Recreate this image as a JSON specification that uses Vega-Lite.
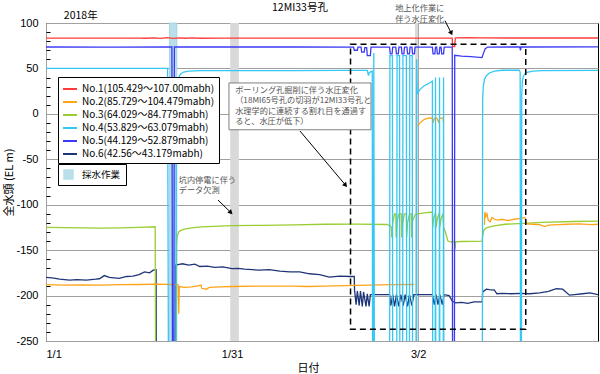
{
  "$schema": "https://vega.github.io/schema/vega-lite/v6.json",
  "width": 552,
  "height": 318,
  "autosize": "none",
  "padding": {"left": 46, "top": 23, "right": 2, "bottom": 33},
  "background": "white",
  "config": {
    "view": {"stroke": "#000", "strokeWidth": 1},
    "font": "Noto Sans CJK JP",
    "axis": {"labelFont": "Liberation Sans", "labelFontSize": 11, "labelColor": "#000", "titleFont": "Noto Sans CJK JP", "titleFontSize": 11, "titleFontWeight": "normal", "titleColor": "#000", "gridColor": "#a0a0a0", "gridWidth": 1, "domain": false}
  },
  "resolve": {"axis": {"y": "independent"}},
  "datasets": {
    "series": [
      {"s":"No.6","g":1,"d":0,"v":-180},{"s":"No.6","g":1,"d":1,"v":-180.5},{"s":"No.6","g":1,"d":2.2,"v":-182},{"s":"No.6","g":1,"d":3.8,"v":-183},{"s":"No.6","g":1,"d":5,"v":-182.5},{"s":"No.6","g":1,"d":6.5,"v":-183},{"s":"No.6","g":1,"d":8,"v":-182},{"s":"No.6","g":1,"d":8.6,"v":-181.5},{"s":"No.6","g":1,"d":9.4,"v":-178},{"s":"No.6","g":1,"d":10.2,"v":-180},{"s":"No.6","g":1,"d":11.8,"v":-181},{"s":"No.6","g":1,"d":13,"v":-179},{"s":"No.6","g":1,"d":14,"v":-178.5},{"s":"No.6","g":1,"d":15,"v":-177},{"s":"No.6","g":1,"d":15.9,"v":-174},{"s":"No.6","g":1,"d":16.7,"v":-175},{"s":"No.6","g":1,"d":17.3,"v":-172},{"s":"No.6","g":1,"d":17.75,"v":-171.5},{"s":"No.6","g":1,"d":17.8,"v":-300},{"s":"No.6","g":1,"d":20.85,"v":-300},{"s":"No.6","g":1,"d":20.9,"v":-166.5},{"s":"No.6","g":1,"d":21.5,"v":-165.7},{"s":"No.6","g":1,"d":22,"v":-165},{"s":"No.6","g":1,"d":23,"v":-166.5},{"s":"No.6","g":1,"d":24,"v":-165.5},{"s":"No.6","g":1,"d":24.8,"v":-168},{"s":"No.6","g":1,"d":26,"v":-167.5},{"s":"No.6","g":1,"d":27.2,"v":-169},{"s":"No.6","g":1,"d":28.5,"v":-168.5},{"s":"No.6","g":1,"d":30,"v":-170.4},{"s":"No.6","g":1,"d":31,"v":-170},{"s":"No.6","g":1,"d":32,"v":-171},{"s":"No.6","g":1,"d":34.4,"v":-172},{"s":"No.6","g":1,"d":36,"v":-171.5},{"s":"No.6","g":1,"d":37.7,"v":-173},{"s":"No.6","g":1,"d":39.3,"v":-174},{"s":"No.6","g":1,"d":40.9,"v":-174},{"s":"No.6","g":1,"d":42.5,"v":-176},{"s":"No.6","g":1,"d":44.1,"v":-177},{"s":"No.6","g":1,"d":45.7,"v":-179.6},{"s":"No.6","g":1,"d":47.3,"v":-178.5},{"s":"No.6","g":1,"d":49,"v":-179},{"s":"No.6","g":1,"d":49.7,"v":-179},{"s":"No.6","g":1,"d":49.75,"v":-194},{"s":"No.6","g":1,"d":50,"v":-210},{"s":"No.6","g":1,"d":50.2,"v":-195},{"s":"No.6","g":1,"d":50.5,"v":-211},{"s":"No.6","g":1,"d":50.7,"v":-195},{"s":"No.6","g":1,"d":51,"v":-212},{"s":"No.6","g":1,"d":51.2,"v":-196},{"s":"No.6","g":1,"d":51.6,"v":-212},{"s":"No.6","g":1,"d":51.8,"v":-198},{"s":"No.6","g":1,"d":52.1,"v":-212},{"s":"No.6","g":1,"d":52.3,"v":-199},{"s":"No.6","g":1,"d":55.4,"v":-199},{"s":"No.6","g":1,"d":55.6,"v":-211},{"s":"No.6","g":1,"d":55.9,"v":-199},{"s":"No.6","g":1,"d":56.2,"v":-212},{"s":"No.6","g":1,"d":56.5,"v":-199},{"s":"No.6","g":1,"d":56.9,"v":-212},{"s":"No.6","g":1,"d":57.2,"v":-199},{"s":"No.6","g":1,"d":57.6,"v":-211},{"s":"No.6","g":1,"d":57.9,"v":-199},{"s":"No.6","g":1,"d":58.3,"v":-212},{"s":"No.6","g":1,"d":58.6,"v":-199},{"s":"No.6","g":1,"d":59,"v":-211},{"s":"No.6","g":1,"d":59.3,"v":-199},{"s":"No.6","g":1,"d":62.3,"v":-199},{"s":"No.6","g":1,"d":62.6,"v":-210},{"s":"No.6","g":1,"d":62.9,"v":-199},{"s":"No.6","g":1,"d":63.2,"v":-210},{"s":"No.6","g":1,"d":63.5,"v":-199},{"s":"No.6","g":1,"d":63.9,"v":-210},{"s":"No.6","g":1,"d":64.2,"v":-199},{"s":"No.6","g":1,"d":65,"v":-200},{"s":"No.6","g":1,"d":65.5,"v":-206},{"s":"No.6","g":1,"d":66,"v":-208},{"s":"No.6","g":1,"d":67,"v":-207.5},{"s":"No.6","g":1,"d":68,"v":-208.5},{"s":"No.6","g":1,"d":69,"v":-207},{"s":"No.6","g":1,"d":70.35,"v":-207},{"s":"No.6","g":1,"d":70.4,"v":-196},{"s":"No.6","g":1,"d":71,"v":-193},{"s":"No.6","g":1,"d":71.5,"v":-193.5},{"s":"No.6","g":1,"d":72.3,"v":-194},{"s":"No.6","g":1,"d":72.7,"v":-198},{"s":"No.6","g":1,"d":73.5,"v":-197.5},{"s":"No.6","g":1,"d":75,"v":-198},{"s":"No.6","g":1,"d":76.5,"v":-197.5},{"s":"No.6","g":1,"d":78,"v":-198},{"s":"No.6","g":1,"d":79.6,"v":-197},{"s":"No.6","g":1,"d":81,"v":-195.5},{"s":"No.6","g":1,"d":82.3,"v":-192.5},{"s":"No.6","g":1,"d":83.3,"v":-193},{"s":"No.6","g":1,"d":84.4,"v":-199.5},{"s":"No.6","g":1,"d":85.2,"v":-199},{"s":"No.6","g":1,"d":86.5,"v":-198},{"s":"No.6","g":1,"d":87.7,"v":-197},{"s":"No.6","g":1,"d":89,"v":-199},

      {"s":"No.3","g":1,"d":0,"v":-125},{"s":"No.3","g":1,"d":3,"v":-125.3},{"s":"No.3","g":1,"d":6,"v":-125.5},{"s":"No.3","g":1,"d":9,"v":-125.8},{"s":"No.3","g":1,"d":12,"v":-125.5},{"s":"No.3","g":1,"d":15,"v":-125},{"s":"No.3","g":1,"d":17.6,"v":-124.3},{"s":"No.3","g":1,"d":17.68,"v":-300},{"s":"No.3","g":1,"d":21,"v":-300},{"s":"No.3","g":1,"d":21.05,"v":-145},{"s":"No.3","g":1,"d":21.15,"v":-135},{"s":"No.3","g":1,"d":21.4,"v":-130},{"s":"No.3","g":1,"d":21.8,"v":-128},{"s":"No.3","g":1,"d":22.5,"v":-126.5},{"s":"No.3","g":1,"d":23.5,"v":-125.5},{"s":"No.3","g":1,"d":25,"v":-124.5},{"s":"No.3","g":1,"d":27,"v":-123.8},{"s":"No.3","g":1,"d":30,"v":-123},{"s":"No.3","g":1,"d":35,"v":-122.7},{"s":"No.3","g":1,"d":40,"v":-122.2},{"s":"No.3","g":1,"d":45,"v":-121.5},{"s":"No.3","g":1,"d":50,"v":-121.3},{"s":"No.3","g":1,"d":55,"v":-121.8},{"s":"No.3","g":1,"d":55.5,"v":-123.5},{"s":"No.3","g":1,"d":55.7,"v":-125},{"s":"No.3","g":1,"d":55.75,"v":-136},{"s":"No.3","g":1,"d":55.9,"v":-120},{"s":"No.3","g":1,"d":56.2,"v":-110},{"s":"No.3","g":1,"d":56.4,"v":-110},{"s":"No.3","g":1,"d":56.45,"v":-136},{"s":"No.3","g":1,"d":56.6,"v":-120},{"s":"No.3","g":1,"d":56.9,"v":-110},{"s":"No.3","g":1,"d":57.3,"v":-110},{"s":"No.3","g":1,"d":57.35,"v":-136},{"s":"No.3","g":1,"d":57.5,"v":-120},{"s":"No.3","g":1,"d":57.8,"v":-110},{"s":"No.3","g":1,"d":58.1,"v":-110},{"s":"No.3","g":1,"d":58.15,"v":-136},{"s":"No.3","g":1,"d":58.3,"v":-120},{"s":"No.3","g":1,"d":58.6,"v":-110},{"s":"No.3","g":1,"d":58.9,"v":-110},{"s":"No.3","g":1,"d":58.95,"v":-136},{"s":"No.3","g":1,"d":59.1,"v":-118},{"s":"No.3","g":1,"d":59.5,"v":-111},{"s":"No.3","g":1,"d":60,"v":-110},{"s":"No.3","g":1,"d":61,"v":-109},{"s":"No.3","g":1,"d":62.3,"v":-108},{"s":"No.3","g":1,"d":62.35,"v":-125},{"s":"No.3","g":1,"d":62.5,"v":-115},{"s":"No.3","g":1,"d":62.8,"v":-109},{"s":"No.3","g":1,"d":62.9,"v":-125},{"s":"No.3","g":1,"d":63.1,"v":-115},{"s":"No.3","g":1,"d":63.4,"v":-109},{"s":"No.3","g":1,"d":63.5,"v":-125},{"s":"No.3","g":1,"d":63.7,"v":-115},{"s":"No.3","g":1,"d":64,"v":-110},{"s":"No.3","g":1,"d":64.1,"v":-125},{"s":"No.3","g":1,"d":64.4,"v":-130},{"s":"No.3","g":1,"d":64.8,"v":-140},{"s":"No.3","g":1,"d":65.2,"v":-141},{"s":"No.3","g":1,"d":65.9,"v":-141},{"s":"No.3","g":1,"d":65.95,"v":-149},{"s":"No.3","g":1,"d":66.05,"v":-141},{"s":"No.3","g":1,"d":67,"v":-140.5},{"s":"No.3","g":1,"d":70.3,"v":-140},{"s":"No.3","g":1,"d":70.4,"v":-135},{"s":"No.3","g":1,"d":70.6,"v":-128},{"s":"No.3","g":1,"d":71,"v":-125.5},{"s":"No.3","g":1,"d":72,"v":-123.5},{"s":"No.3","g":1,"d":74,"v":-121.5},{"s":"No.3","g":1,"d":77,"v":-120.5},{"s":"No.3","g":1,"d":80,"v":-119.5},{"s":"No.3","g":1,"d":85,"v":-118.5},{"s":"No.3","g":1,"d":89,"v":-118},

      {"s":"No.2","g":1,"d":0,"v":-188},{"s":"No.2","g":1,"d":3,"v":-188.5},{"s":"No.2","g":1,"d":6,"v":-188.3},{"s":"No.2","g":1,"d":9,"v":-188.6},{"s":"No.2","g":1,"d":12,"v":-188},{"s":"No.2","g":1,"d":15,"v":-187.8},{"s":"No.2","g":1,"d":18,"v":-187.5},{"s":"No.2","g":1,"d":20,"v":-187.8},{"s":"No.2","g":1,"d":21.3,"v":-188},{"s":"No.2","g":1,"d":21.4,"v":-220},{"s":"No.2","g":1,"d":21.5,"v":-190},{"s":"No.2","g":1,"d":22.3,"v":-191},{"s":"No.2","g":1,"d":23.5,"v":-190.5},{"s":"No.2","g":1,"d":24.7,"v":-189},{"s":"No.2","g":1,"d":25,"v":-188.5},{"s":"No.2","g":1,"d":25.1,"v":-192},{"s":"No.2","g":1,"d":25.9,"v":-193},{"s":"No.2","g":1,"d":26.3,"v":-191},{"s":"No.2","g":1,"d":28,"v":-190.5},{"s":"No.2","g":1,"d":30,"v":-190},{"s":"No.2","g":1,"d":35,"v":-189.5},{"s":"No.2","g":1,"d":40,"v":-189.5},{"s":"No.2","g":1,"d":42,"v":-190},{"s":"No.2","g":1,"d":45,"v":-189.5},{"s":"No.2","g":1,"d":48,"v":-189},{"s":"No.2","g":1,"d":52,"v":-188.5},{"s":"No.2","g":1,"d":56,"v":-188},{"s":"No.2","g":1,"d":59.4,"v":-187.8},
      {"s":"No.2","g":2,"d":59.9,"v":-13},{"s":"No.2","g":2,"d":60.2,"v":-11},{"s":"No.2","g":2,"d":60.6,"v":-8},{"s":"No.2","g":2,"d":61,"v":-6},{"s":"No.2","g":2,"d":61.5,"v":-5},{"s":"No.2","g":2,"d":62,"v":-4.5},{"s":"No.2","g":2,"d":62.3,"v":-5},{"s":"No.2","g":2,"d":62.4,"v":-10},{"s":"No.2","g":2,"d":62.6,"v":-5},{"s":"No.2","g":2,"d":63,"v":-4.5},{"s":"No.2","g":2,"d":63.3,"v":-9},{"s":"No.2","g":2,"d":63.5,"v":-5},{"s":"No.2","g":2,"d":64,"v":-4.5},{"s":"No.2","g":2,"d":64.1,"v":-10},
      {"s":"No.2","g":3,"d":70.7,"v":-122},{"s":"No.2","g":3,"d":70.75,"v":-108},{"s":"No.2","g":3,"d":70.9,"v":-113},{"s":"No.2","g":3,"d":71.1,"v":-110},{"s":"No.2","g":3,"d":71.3,"v":-117},{"s":"No.2","g":3,"d":71.6,"v":-119},{"s":"No.2","g":3,"d":71.9,"v":-114},{"s":"No.2","g":3,"d":72.3,"v":-116},{"s":"No.2","g":3,"d":72.8,"v":-117},{"s":"No.2","g":3,"d":73.5,"v":-116},{"s":"No.2","g":3,"d":74.5,"v":-117.5},{"s":"No.2","g":3,"d":75.5,"v":-116},{"s":"No.2","g":3,"d":76.5,"v":-115},{"s":"No.2","g":3,"d":77.2,"v":-114},{"s":"No.2","g":3,"d":77.5,"v":-121},{"s":"No.2","g":3,"d":78.5,"v":-121.5},{"s":"No.2","g":3,"d":79.6,"v":-122},{"s":"No.2","g":3,"d":80.4,"v":-124},{"s":"No.2","g":3,"d":81,"v":-122.5},{"s":"No.2","g":3,"d":82.8,"v":-122},{"s":"No.2","g":3,"d":84,"v":-121.5},{"s":"No.2","g":3,"d":86,"v":-121},{"s":"No.2","g":3,"d":88,"v":-122},{"s":"No.2","g":3,"d":89,"v":-121.5},

      {"s":"No.4","g":1,"d":0,"v":50},{"s":"No.4","g":1,"d":10,"v":50},{"s":"No.4","g":1,"d":19.6,"v":50},{"s":"No.4","g":1,"d":19.75,"v":-300},{"s":"No.4","g":1,"d":20.95,"v":-300},{"s":"No.4","g":1,"d":21,"v":-60},{"s":"No.4","g":1,"d":21.1,"v":10},{"s":"No.4","g":1,"d":21.2,"v":30},{"s":"No.4","g":1,"d":21.4,"v":40},{"s":"No.4","g":1,"d":21.7,"v":44},{"s":"No.4","g":1,"d":22.2,"v":46},{"s":"No.4","g":1,"d":23,"v":47},{"s":"No.4","g":1,"d":25,"v":47.5},{"s":"No.4","g":1,"d":30,"v":47.5},{"s":"No.4","g":1,"d":40,"v":47.6},{"s":"No.4","g":1,"d":48,"v":47.8},{"s":"No.4","g":1,"d":51.8,"v":47.8},{"s":"No.4","g":1,"d":51.9,"v":45},{"s":"No.4","g":1,"d":52,"v":42},{"s":"No.4","g":1,"d":52.1,"v":45},{"s":"No.4","g":1,"d":52.5,"v":47},{"s":"No.4","g":1,"d":52.6,"v":47},{"s":"No.4","g":1,"d":52.66,"v":-300},{"s":"No.4","g":1,"d":52.8,"v":-300},{"s":"No.4","g":1,"d":52.85,"v":67},{"s":"No.4","g":1,"d":52.95,"v":-300},{"s":"No.4","g":1,"d":55.4,"v":-300},{"s":"No.4","g":1,"d":55.45,"v":64},{"s":"No.4","g":1,"d":55.85,"v":64},{"s":"No.4","g":1,"d":55.9,"v":-300},{"s":"No.4","g":1,"d":56.55,"v":-300},{"s":"No.4","g":1,"d":56.6,"v":64},{"s":"No.4","g":1,"d":57,"v":64},{"s":"No.4","g":1,"d":57.05,"v":-300},{"s":"No.4","g":1,"d":57.5,"v":-300},{"s":"No.4","g":1,"d":57.55,"v":64},{"s":"No.4","g":1,"d":58.1,"v":64},{"s":"No.4","g":1,"d":58.15,"v":-300},{"s":"No.4","g":1,"d":58.6,"v":-300},{"s":"No.4","g":1,"d":58.65,"v":64},{"s":"No.4","g":1,"d":59.05,"v":64},{"s":"No.4","g":1,"d":59.1,"v":-300},{"s":"No.4","g":1,"d":59.7,"v":-300},{"s":"No.4","g":1,"d":59.75,"v":60},{"s":"No.4","g":1,"d":59.85,"v":22},{"s":"No.4","g":1,"d":60.3,"v":27},{"s":"No.4","g":1,"d":61,"v":31},{"s":"No.4","g":1,"d":61.8,"v":34},{"s":"No.4","g":1,"d":62.3,"v":36},{"s":"No.4","g":1,"d":62.35,"v":-300},{"s":"No.4","g":1,"d":62.75,"v":-300},{"s":"No.4","g":1,"d":62.8,"v":40},{"s":"No.4","g":1,"d":62.85,"v":-300},{"s":"No.4","g":1,"d":63.4,"v":-300},{"s":"No.4","g":1,"d":63.45,"v":40},{"s":"No.4","g":1,"d":63.5,"v":-300},{"s":"No.4","g":1,"d":64.05,"v":-300},{"s":"No.4","g":1,"d":64.1,"v":40},{"s":"No.4","g":1,"d":64.15,"v":-300},{"s":"No.4","g":1,"d":70.35,"v":-300},{"s":"No.4","g":1,"d":70.4,"v":15},{"s":"No.4","g":1,"d":70.5,"v":30},{"s":"No.4","g":1,"d":70.7,"v":38},{"s":"No.4","g":1,"d":71,"v":42},{"s":"No.4","g":1,"d":71.5,"v":45},{"s":"No.4","g":1,"d":72.3,"v":47},{"s":"No.4","g":1,"d":73.5,"v":48},{"s":"No.4","g":1,"d":76.3,"v":48},{"s":"No.4","g":1,"d":76.45,"v":46},{"s":"No.4","g":1,"d":76.5,"v":-300},{"s":"No.4","g":1,"d":76.65,"v":-300},{"s":"No.4","g":1,"d":76.7,"v":20},{"s":"No.4","g":1,"d":76.8,"v":36},{"s":"No.4","g":1,"d":77,"v":42},{"s":"No.4","g":1,"d":77.4,"v":45.5},{"s":"No.4","g":1,"d":78.5,"v":47},{"s":"No.4","g":1,"d":80,"v":47.5},{"s":"No.4","g":1,"d":89,"v":47.8},

      {"s":"No.5","g":1,"d":0,"v":73.6},{"s":"No.5","g":1,"d":10,"v":73.5},{"s":"No.5","g":1,"d":20.3,"v":73.6},{"s":"No.5","g":1,"d":20.4,"v":-300},{"s":"No.5","g":1,"d":20.6,"v":-300},{"s":"No.5","g":1,"d":20.7,"v":73.6},{"s":"No.5","g":1,"d":30,"v":73.6},{"s":"No.5","g":1,"d":40,"v":73.6},{"s":"No.5","g":1,"d":49.6,"v":73.5},{"s":"No.5","g":1,"d":49.7,"v":70},{"s":"No.5","g":1,"d":50.2,"v":70},{"s":"No.5","g":1,"d":50.3,"v":73.5},{"s":"No.5","g":1,"d":50.8,"v":73.5},{"s":"No.5","g":1,"d":50.9,"v":68},{"s":"No.5","g":1,"d":51.3,"v":68},{"s":"No.5","g":1,"d":51.4,"v":73},{"s":"No.5","g":1,"d":51.7,"v":73},{"s":"No.5","g":1,"d":51.8,"v":64},{"s":"No.5","g":1,"d":52.3,"v":64},{"s":"No.5","g":1,"d":52.4,"v":73.5},{"s":"No.5","g":1,"d":55.4,"v":73.5},{"s":"No.5","g":1,"d":55.5,"v":66},{"s":"No.5","g":1,"d":55.8,"v":66},{"s":"No.5","g":1,"d":55.9,"v":73.5},{"s":"No.5","g":1,"d":56.4,"v":73.5},{"s":"No.5","g":1,"d":56.5,"v":66},{"s":"No.5","g":1,"d":56.8,"v":66},{"s":"No.5","g":1,"d":56.9,"v":73.5},{"s":"No.5","g":1,"d":57.3,"v":73.5},{"s":"No.5","g":1,"d":57.4,"v":66},{"s":"No.5","g":1,"d":57.7,"v":66},{"s":"No.5","g":1,"d":57.8,"v":73.5},{"s":"No.5","g":1,"d":58.2,"v":73.5},{"s":"No.5","g":1,"d":58.3,"v":66},{"s":"No.5","g":1,"d":58.6,"v":66},{"s":"No.5","g":1,"d":58.7,"v":73.5},{"s":"No.5","g":1,"d":59,"v":73.5},{"s":"No.5","g":1,"d":59.1,"v":66},{"s":"No.5","g":1,"d":59.4,"v":66},{"s":"No.5","g":1,"d":59.5,"v":73.5},{"s":"No.5","g":1,"d":62.3,"v":73.5},{"s":"No.5","g":1,"d":62.4,"v":66},{"s":"No.5","g":1,"d":62.7,"v":66},{"s":"No.5","g":1,"d":62.8,"v":73.5},{"s":"No.5","g":1,"d":63,"v":73.5},{"s":"No.5","g":1,"d":63.1,"v":66},{"s":"No.5","g":1,"d":63.4,"v":66},{"s":"No.5","g":1,"d":63.5,"v":73.5},{"s":"No.5","g":1,"d":63.7,"v":73.5},{"s":"No.5","g":1,"d":63.8,"v":66},{"s":"No.5","g":1,"d":64.1,"v":66},{"s":"No.5","g":1,"d":64.2,"v":73.5},{"s":"No.5","g":1,"d":65.5,"v":73.5},{"s":"No.5","g":1,"d":65.55,"v":-300},{"s":"No.5","g":1,"d":65.85,"v":-300},{"s":"No.5","g":1,"d":65.9,"v":64.5},{"s":"No.5","g":1,"d":67,"v":63.5},{"s":"No.5","g":1,"d":68.5,"v":63},{"s":"No.5","g":1,"d":70.3,"v":62},{"s":"No.5","g":1,"d":70.5,"v":66},{"s":"No.5","g":1,"d":70.8,"v":71.5},{"s":"No.5","g":1,"d":71.2,"v":73.5},{"s":"No.5","g":1,"d":76.4,"v":73.6},{"s":"No.5","g":1,"d":76.5,"v":70},{"s":"No.5","g":1,"d":76.6,"v":73.6},{"s":"No.5","g":1,"d":89,"v":73.8},

      {"s":"No.1","g":1,"d":0,"v":83.3},{"s":"No.1","g":1,"d":10,"v":83.3},{"s":"No.1","g":1,"d":15,"v":83.4},{"s":"No.1","g":1,"d":16,"v":83.2},{"s":"No.1","g":1,"d":17.5,"v":83.6},{"s":"No.1","g":1,"d":18.5,"v":83},{"s":"No.1","g":1,"d":19.5,"v":83.8},{"s":"No.1","g":1,"d":20.5,"v":83.1},{"s":"No.1","g":1,"d":21.5,"v":83.7},{"s":"No.1","g":1,"d":22.5,"v":83.2},{"s":"No.1","g":1,"d":23.5,"v":83.6},{"s":"No.1","g":1,"d":25,"v":83.2},{"s":"No.1","g":1,"d":28,"v":83.4},{"s":"No.1","g":1,"d":35,"v":83.3},{"s":"No.1","g":1,"d":45,"v":83.4},{"s":"No.1","g":1,"d":55,"v":83.3},{"s":"No.1","g":1,"d":65.5,"v":83.3},{"s":"No.1","g":1,"d":65.56,"v":74},{"s":"No.1","g":1,"d":65.9,"v":74},{"s":"No.1","g":1,"d":66,"v":83.6},{"s":"No.1","g":1,"d":68,"v":84},{"s":"No.1","g":1,"d":70,"v":83.6},{"s":"No.1","g":1,"d":75,"v":83.5},{"s":"No.1","g":1,"d":89,"v":83.5}
    ],
    "graybands": [{"d0": 29.7, "d1": 31.1}, {"d0": 59.5, "d1": 60.0}],
    "sampling": [{"k": "採水作業", "d0": 19.9, "d1": 21.1}],
    "frame": [{"d0": 49.1, "d1": 77.35, "v0": 76.6, "v1": -237}],
    "notebox": [{"d0": 29.5, "d1": 52.4, "v0": 34, "v1": -17.5}],
    "notes": [
      {"d": 30.5, "v": 29.5, "t": "ボーリング孔掘削に伴う水圧変化\n（18MI65号孔の切羽が12MI33号孔と\n水理学的に連続する割れ目を通過す\nると、水圧が低下）"},
      {"d": 21.4, "v": -69, "t": "坑内停電に伴う\nデータ欠測"},
      {"d": 56.3, "v": 119.5, "t": "地上化作業に\n伴う水圧変化"}
    ],
    "labels": [
      {"d": 5.6, "v": 108, "t": "2018年"},
      {"d": 40.95, "v": 116, "t": "12MI33号孔"}
    ],
    "arrows": [
      {"d0": 40.95, "v0": -18.9, "d1": 48.3, "v1": -78.5, "a": 140},
      {"d0": 27.73, "v0": -94.8, "d1": 29.8, "v1": -108.6, "a": 135},
      {"d0": 64.33, "v0": 102.5, "d1": 65.35, "v1": 88.8, "a": 155}
    ]
  },
  "layer": [
    {
      "data": {"name": "graybands"},
      "mark": {"type": "rect", "fill": "#d9d9d9"},
      "encoding": {
        "x": {"field": "d0", "type": "quantitative", "scale": {"domain": [0, 89], "nice": false, "zero": false},
              "axis": {"values": [0, 30, 60], "grid": true, "ticks": false, "labelPadding": 7, "labelExpr": "timeFormat(datetime(2018, 0, 1 + datum.value), '%-m/%-d')", "title": "日付", "titleX": 262, "titleY": 27, "titleBaseline": "middle"}},
        "x2": {"field": "d1"}
      }
    },
    {
      "data": {"name": "sampling"},
      "mark": {"type": "rect", "stroke": "#9fd0e0", "strokeWidth": 0.8},
      "encoding": {
        "x": {"field": "d0", "type": "quantitative"},
        "x2": {"field": "d1"},
        "fill": {"field": "k", "type": "nominal", "scale": {"domain": ["採水作業"], "range": ["#b8dfea"]},
                 "legend": {"orient": "none", "legendX": 12, "legendY": 141, "title": null, "strokeColor": "#000", "fillColor": "#fff", "padding": 5, "symbolType": "square", "symbolSize": 110, "symbolStrokeWidth": 0, "labelFont": "Noto Sans CJK JP", "labelFontSize": 9.5, "labelColor": "#000", "labelOffset": 8}}
      }
    },
    {
      "data": {"name": "series"},
      "mark": {"type": "line", "clip": true, "strokeWidth": 1.3},
      "encoding": {
        "x": {"field": "d", "type": "quantitative"},
        "y": {"field": "v", "type": "quantitative", "scale": {"domain": [-250, 100], "nice": false, "zero": false},
              "axis": {"values": [-250, -200, -150, -100, -50, 0, 50, 100], "grid": true, "ticks": false, "labelPadding": 8, "labelOverlap": false,
                       "labelExpr": "datum.value + ''",
                       "title": "全水頭 (EL m)", "titleX": -37, "titleY": 159, "titleAngle": -90, "titleAlign": "center", "titleBaseline": "middle"}},
        "stroke": {"field": "s", "type": "nominal",
                   "scale": {"domain": ["No.1", "No.2", "No.3", "No.4", "No.5", "No.6"], "range": ["#ff3b3b", "#ffa31a", "#9acd32", "#35c8f5", "#3a3af5", "#1f3577"]},
                   "legend": {"orient": "none", "legendX": 12, "legendY": 54, "title": null, "strokeColor": "#000", "fillColor": "#fff", "padding": 4, "rowPadding": 0, "symbolType": "stroke", "symbolSize": 196, "symbolStrokeWidth": 2, "labelFont": "Noto Sans CJK JP", "labelFontSize": 10, "labelColor": "#000", "labelLimit": 300,
                              "labelExpr": "{'No.1': 'No.1(105.429～107.00mabh)', 'No.2': 'No.2(85.729～104.479mabh)', 'No.3': 'No.3(64.029～84.779mabh)', 'No.4': 'No.4(53.829～63.079mabh)', 'No.5': 'No.5(44.129～52.879mabh)', 'No.6': 'No.6(42.56～43.179mabh)'}[datum.label]"}},
        "detail": {"field": "g", "type": "nominal"}
      }
    },
    {
      "data": {"name": "frame"},
      "mark": {"type": "rect", "fill": null, "fillOpacity": 0, "stroke": "#000", "strokeWidth": 1.5, "strokeDash": [6, 4]},
      "encoding": {
        "x": {"field": "d0", "type": "quantitative"}, "x2": {"field": "d1"},
        "y": {"field": "v0", "type": "quantitative",
              "axis": {"orient": "left", "values": [-240,-230,-220,-210,-190,-180,-170,-160,-140,-130,-120,-110,-90,-80,-70,-60,-40,-30,-20,-10,10,20,30,40,60,70,80,90], "labels": false, "grid": false, "domain": false, "ticks": true, "tickSize": -4, "tickColor": "#000", "title": null}},
        "y2": {"field": "v1"}
      }
    },
    {
      "data": {"name": "notebox"},
      "mark": {"type": "rect", "fill": "#fff", "stroke": "#7f7f7f", "strokeWidth": 1},
      "encoding": {
        "x": {"field": "d0", "type": "quantitative"}, "x2": {"field": "d1"},
        "y": {"field": "v0", "type": "quantitative", "axis": null}, "y2": {"field": "v1"}
      }
    },
    {
      "data": {"name": "notes"},
      "mark": {"type": "text", "align": "left", "baseline": "top", "lineBreak": "\n", "fontSize": 8.2, "lineHeight": 10.3, "color": "#555", "font": "Noto Sans CJK JP"},
      "encoding": {
        "x": {"field": "d", "type": "quantitative"},
        "y": {"field": "v", "type": "quantitative", "axis": null},
        "text": {"field": "t"}
      }
    },
    {
      "data": {"name": "labels"},
      "mark": {"type": "text", "align": "center", "baseline": "middle", "fontSize": 10.5, "color": "#000", "font": "Noto Sans CJK JP"},
      "encoding": {
        "x": {"field": "d", "type": "quantitative"},
        "y": {"field": "v", "type": "quantitative", "axis": null},
        "text": {"field": "t"}
      }
    },
    {
      "data": {"name": "arrows"},
      "mark": {"type": "rule", "color": "#000", "strokeWidth": 1},
      "encoding": {
        "x": {"field": "d0", "type": "quantitative"}, "x2": {"field": "d1"},
        "y": {"field": "v0", "type": "quantitative", "axis": null}, "y2": {"field": "v1"}
      }
    },
    {
      "data": {"name": "arrows"},
      "mark": {"type": "point", "shape": "triangle-up", "filled": true, "color": "#000", "size": 28, "opacity": 1},
      "encoding": {
        "x": {"field": "d1", "type": "quantitative"},
        "y": {"field": "v1", "type": "quantitative", "axis": null},
        "angle": {"field": "a", "type": "quantitative", "scale": null}
      }
    }
  ]
}
